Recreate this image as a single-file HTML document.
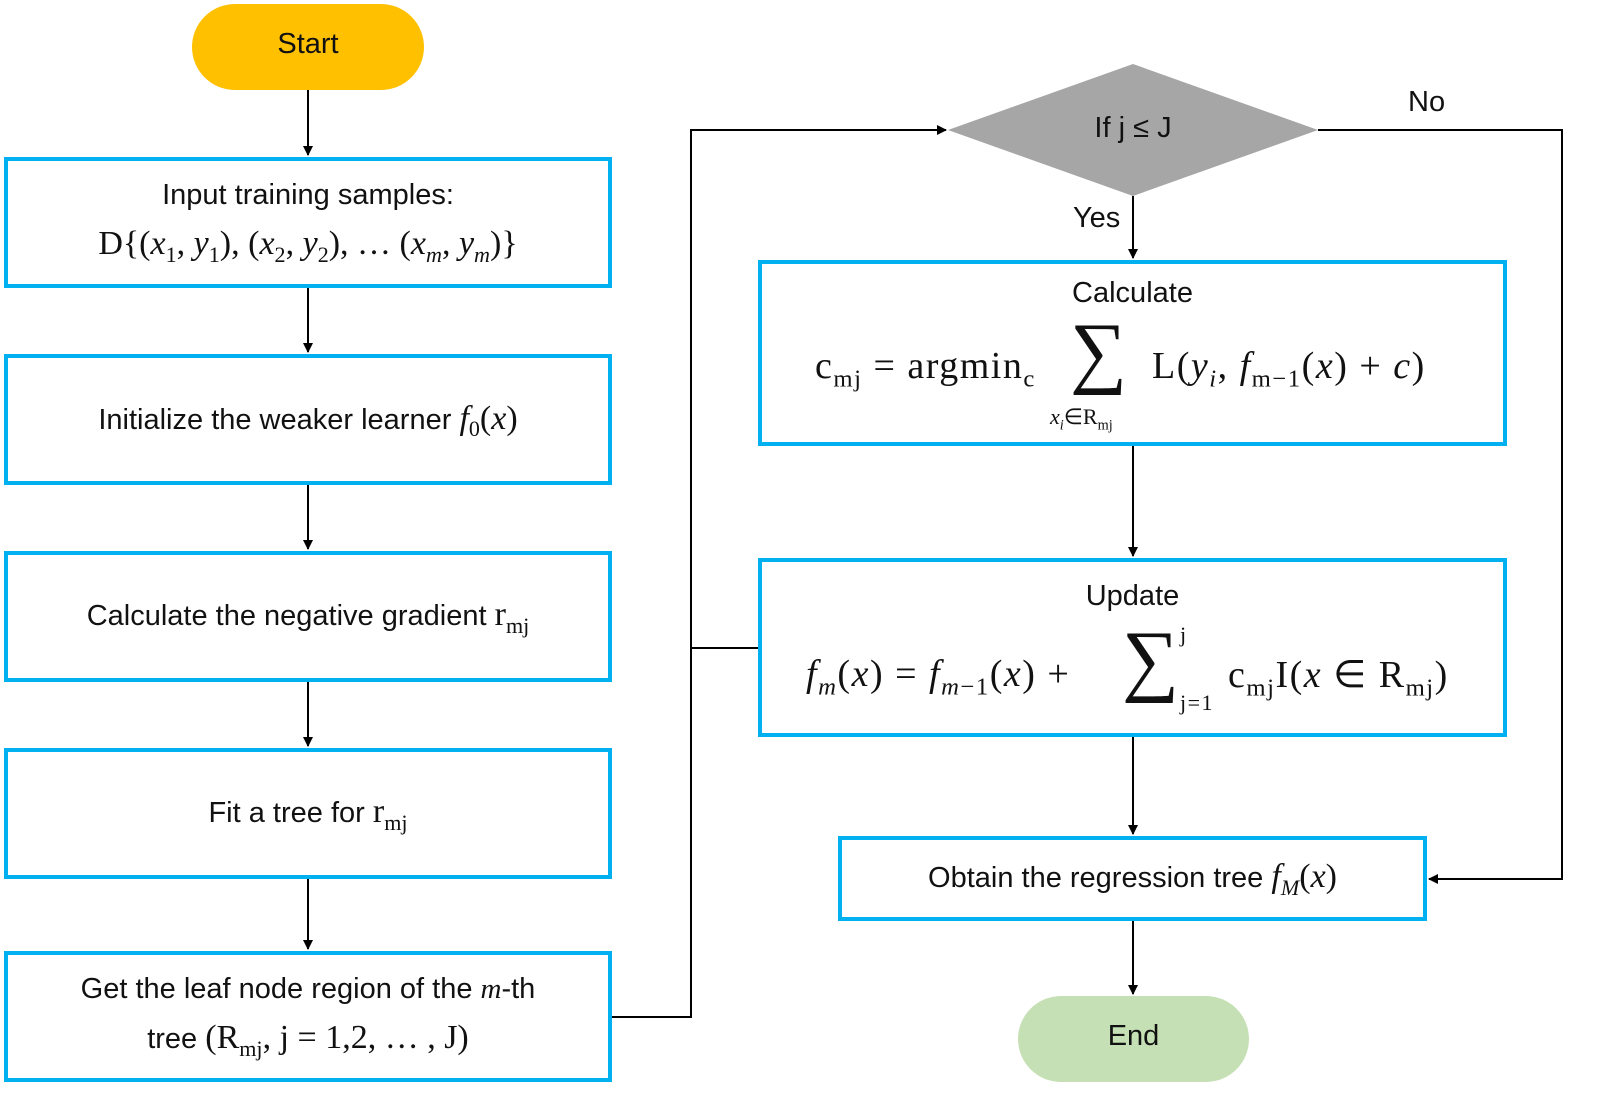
<!DOCTYPE html>
<html><head><meta charset="utf-8"><style>
body{margin:0;width:1605px;height:1115px;background:#fff;position:relative;overflow:hidden;font-family:"Liberation Sans",sans-serif;color:#111}
.b{position:absolute;box-sizing:border-box;border:4px solid #00b0f0;display:flex;flex-direction:column;align-items:center;justify-content:center;font-size:29px;text-align:center;line-height:1.55}
.m{font-family:"Liberation Serif",serif;font-size:34px}
i{font-family:"Liberation Serif",serif}
sub{font-size:0.65em}
.t{position:absolute;font-size:29px;white-space:nowrap}
.f{position:absolute;white-space:nowrap;font-family:"Liberation Serif",serif;font-size:38px;letter-spacing:1.5px}
.s{position:absolute;font-family:"Liberation Serif",serif;font-size:80px;line-height:80px}
</style></head><body>
<svg width="1605" height="1115" style="position:absolute;left:0;top:0">
<defs><marker id="a" markerWidth="10" markerHeight="10" refX="9" refY="5" orient="auto" markerUnits="userSpaceOnUse"><path d="M0,0 L10,5 L0,10 z" fill="#000"/></marker></defs>
<rect x="192" y="4" width="232" height="86" rx="43" fill="#ffc000"/>
<rect x="1018" y="996" width="231" height="86" rx="43" fill="#c5e0b4"/>
<polygon points="948,130 1133,64 1318,130 1133,196" fill="#a6a6a6"/>
<g stroke="#000" stroke-width="2" fill="none" marker-end="url(#a)">
<line x1="308" y1="90" x2="308" y2="155"/>
<line x1="308" y1="288" x2="308" y2="352"/>
<line x1="308" y1="485" x2="308" y2="549"/>
<line x1="308" y1="682" x2="308" y2="746"/>
<line x1="308" y1="879" x2="308" y2="949"/>
<polyline points="612,1017 691,1017 691,130 946,130"/>
<line x1="1133" y1="196" x2="1133" y2="258"/>
<line x1="1133" y1="446" x2="1133" y2="556"/>
<line x1="1133" y1="737" x2="1133" y2="834"/>
<line x1="1133" y1="921" x2="1133" y2="994"/>
<polyline points="1318,130 1562,130 1562,879 1429,879"/>
</g>
<line x1="691" y1="648" x2="758" y2="648" stroke="#000" stroke-width="2"/>
</svg>
<div class="t" style="left:192px;top:28px;width:232px;text-align:center">Start</div>
<div class="t" style="left:1018px;top:1020px;width:231px;text-align:center">End</div>
<div class="t" style="left:1048px;top:112px;width:170px;text-align:center">If j ≤ J</div>
<div class="t" style="left:1073px;top:202px">Yes</div>
<div class="t" style="left:1408px;top:86px">No</div>
<div class="b" style="left:4px;top:157px;width:608px;height:131px"><div>Input training samples:</div><div class="m">D{(<i>x</i><sub>1</sub>, <i>y</i><sub>1</sub>), (<i>x</i><sub>2</sub>, <i>y</i><sub>2</sub>), … (<i>x<sub>m</sub></i>, <i>y<sub>m</sub></i>)}</div></div>
<div class="b" style="left:4px;top:354px;width:608px;height:131px"><div>Initialize the weaker learner <i class="m">f</i><sub class="m" style="font-size:22px">0</sub><span class="m">(<i>x</i>)</span></div></div>
<div class="b" style="left:4px;top:551px;width:608px;height:131px"><div>Calculate the negative gradient <span class="m">r<sub>mj</sub></span></div></div>
<div class="b" style="left:4px;top:748px;width:608px;height:131px"><div>Fit a tree for <span class="m">r<sub>mj</sub></span></div></div>
<div class="b" style="left:4px;top:951px;width:608px;height:131px"><div>Get the leaf node region of the <i>m</i>-th</div><div>tree <span class="m">(R<sub>mj</sub>, j = 1,2, … , J)</span></div></div>

<div class="b" style="left:758px;top:260px;width:749px;height:186px"></div>
<div class="t" style="left:758px;top:277px;width:749px;text-align:center">Calculate</div>
<div class="f" style="left:815px;top:344px">c<sub>mj</sub> = argmin<sub>c</sub></div>
<div class="s" style="left:1070px;top:312px">∑</div>
<div class="f" style="left:1152px;top:344px">L(<i>y<sub>i</sub></i>, <i>f</i><sub>m−1</sub>(<i>x</i>) + <i>c</i>)</div>
<div class="f" style="left:1050px;top:404px;font-size:22px;letter-spacing:0"><i>x<sub>i</sub></i>∈R<sub>mj</sub></div>

<div class="b" style="left:758px;top:558px;width:749px;height:179px"></div>
<div class="t" style="left:758px;top:580px;width:749px;text-align:center">Update</div>
<div class="f" style="left:806px;top:652px"><i>f<sub>m</sub></i>(<i>x</i>) = <i>f</i><sub><i>m</i>−1</sub>(<i>x</i>) +</div>
<div class="s" style="left:1122px;top:620px">∑</div>
<div class="f" style="left:1180px;top:622px;font-size:22px">j</div>
<div class="f" style="left:1180px;top:690px;font-size:22px">j=1</div>
<div class="f" style="left:1228px;top:652px">c<sub>mj</sub>I(<i>x</i> ∈ R<sub>mj</sub>)</div>

<div class="b" style="left:838px;top:836px;width:589px;height:85px"><div>Obtain the regression tree <i class="m">f<sub>M</sub></i><span class="m">(<i>x</i>)</span></div></div>
</body></html>
